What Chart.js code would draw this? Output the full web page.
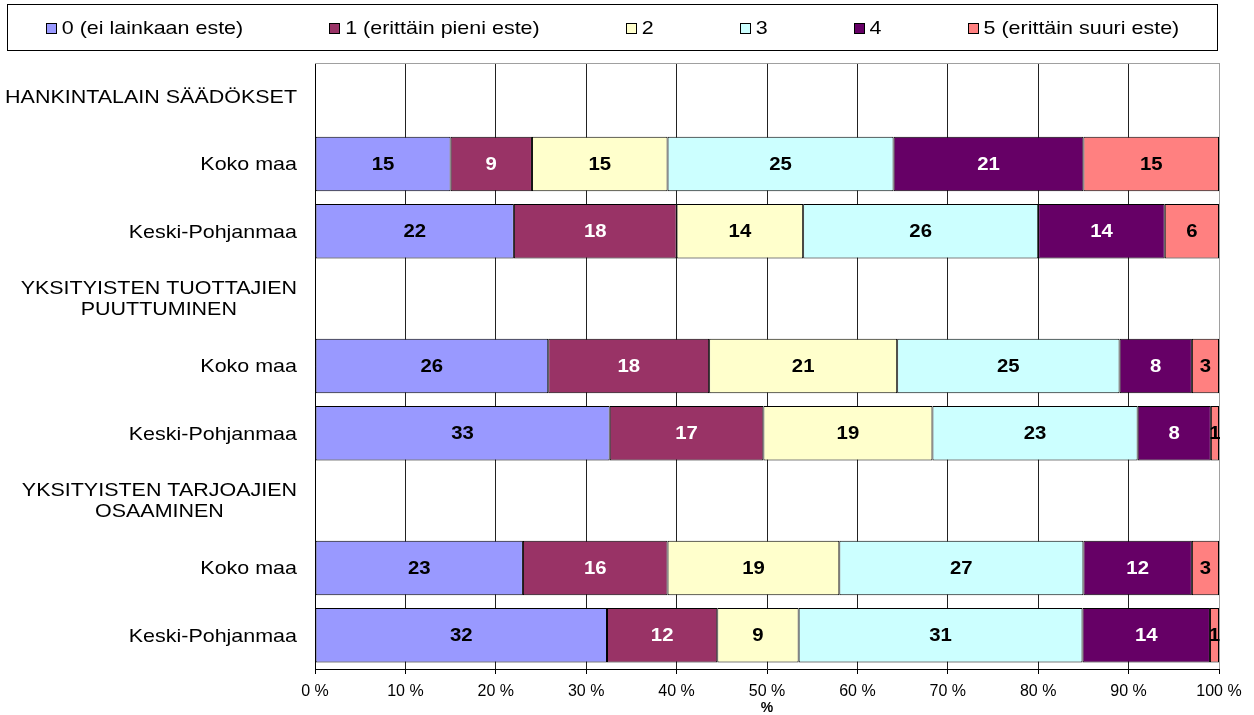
<!DOCTYPE html>
<html>
<head>
<meta charset="utf-8">
<script src="https://cdn.jsdelivr.net/npm/chart.js@4.4.0/dist/chart.umd.min.js"></script>
<style>
  html, body { margin: 0; padding: 0; background: #fff; }
</style>
</head>
<body>
<canvas id="chart" width="1254" height="715"></canvas>
<script>
// rows of the chart, section headers have no bars
const categories = [
    'HANKINTALAIN SÄÄDÖKSET',
    'Koko maa',
    'Keski-Pohjanmaa',
    ['YKSITYISTEN TUOTTAJIEN', 'PUUTTUMINEN'],
    'Koko maa',
    'Keski-Pohjanmaa',
    ['YKSITYISTEN TARJOAJIEN', 'OSAAMINEN'],
    'Koko maa',
    'Keski-Pohjanmaa'
];

const seriesNames = ['0 (ei lainkaan este)', '1 (erittäin pieni este)', '2', '3', '4', '5 (erittäin suuri este)'];
const seriesColors = ['#9999FF', '#993366', '#FFFFCC', '#CCFFFF', '#660066', '#FF8080'];
const labelColors = ['#000', '#fff', '#000', '#000', '#fff', '#000'];

// percentages
const vals0 = [null, 15, 22, null, 25.8, 32.6, null, 23, 32.3];
const vals1 = [null, 9, 18, null, 17.8, 17.0, null, 16, 12.2];
const vals2 = [null, 15, 14, null, 20.8, 18.7, null, 19, 9.0];
const vals3 = [null, 25, 26, null, 24.6, 22.7, null, 27, 31.4];
const vals4 = [null, 21, 14, null, 8.0, 8.1, null, 12, 14.1];
const vals5 = [null, 15, 6, null, 3.0, 0.9, null, 3, 1.0];
const seriesValues = [vals0, vals1, vals2, vals3, vals4, vals5];

const xTicks = [0, 10, 20, 30, 40, 50, 60, 70, 80, 90, 100];

const FONT = '"Liberation Sans", Arial, sans-serif';
const STRETCH = 1.13;

function drawStretched(ctx, text, x, y, align) {
    const w = ctx.measureText(text).width * STRETCH;
    let left = x;
    if (align === 'right') left = x - w;
    else if (align === 'center') left = x - w / 2;
    ctx.save();
    ctx.translate(left, y);
    ctx.scale(STRETCH, 1);
    ctx.textAlign = 'left';
    ctx.fillText(text, 0, 0);
    ctx.restore();
    return w;
}

const plotFrame = {
    id: 'plotFrame',
    beforeDatasetsDraw(chart) {
        const { ctx, chartArea: a } = chart;
        ctx.save();
        ctx.strokeStyle = '#a0a0a0';
        ctx.lineWidth = 1;
        ctx.beginPath();
        ctx.moveTo(a.left, a.top + 0.5);
        ctx.lineTo(a.right + 0.5, a.top + 0.5);
        ctx.lineTo(a.right + 0.5, a.bottom);
        ctx.stroke();
        ctx.restore();
    }
};

const segmentLabels = {
    id: 'segmentLabels',
    afterDatasetsDraw(chart) {
        const ctx = chart.ctx;
        ctx.save();
        ctx.font = 'bold 18px ' + FONT;
        ctx.textBaseline = 'middle';
        chart.data.datasets.forEach((ds, i) => {
            const meta = chart.getDatasetMeta(i);
            meta.data.forEach((bar, j) => {
                const v = ds.data[j];
                if (v === null || v === undefined) return;
                ctx.fillStyle = labelColors[i];
                drawStretched(ctx, String(Math.round(v)), (bar.x + bar.base) / 2, bar.y + 1, 'center');
            });
        });
        ctx.restore();
    }
};

const categoryLabels = {
    id: 'categoryLabels',
    afterDraw(chart) {
        const ctx = chart.ctx;
        const yScale = chart.scales.y;
        const right = chart.chartArea.left - 18;
        ctx.save();
        ctx.font = '19px ' + FONT;
        ctx.fillStyle = '#000';
        ctx.textBaseline = 'middle';
        categories.forEach((label, i) => {
            const y = yScale.getPixelForValue(i);
            const lines = Array.isArray(label) ? label : [label];
            const widest = Math.max(...lines.map(l => ctx.measureText(l).width * STRETCH));
            const cx = right - widest / 2;
            const lh = 21;
            lines.forEach((line, k) => {
                const ly = y + (k - (lines.length - 1) / 2) * lh + 1;
                drawStretched(ctx, line, cx, ly, 'center');
            });
        });
        ctx.restore();
    }
};

const legendBox = {
    id: 'legendBox',
    afterDraw(chart) {
        const ctx = chart.ctx;
        const box = { left: 7.5, top: 4.5, right: 1217.5, bottom: 50.5 };
        ctx.save();
        ctx.strokeStyle = '#000';
        ctx.lineWidth = 1;
        ctx.strokeRect(box.left, box.top, box.right - box.left, box.bottom - box.top);

        ctx.font = '19px ' + FONT;
        ctx.textBaseline = 'middle';
        const sq = 10, textGap = 6, itemGap = 86;
        const widths = seriesNames.map(n => sq + textGap + ctx.measureText(n).width * STRETCH);
        const total = widths.reduce((s, w) => s + w, 0) + itemGap * (widths.length - 1);
        let x = (box.left + box.right) / 2 - total / 2;
        const cy = (box.top + box.bottom) / 2;
        seriesNames.forEach((name, i) => {
            const sx = Math.round(x) + 0.5, sy = Math.round(cy - sq / 2) + 0.5;
            ctx.fillStyle = seriesColors[i];
            ctx.fillRect(sx, sy, sq, sq);
            ctx.strokeStyle = '#000';
            ctx.strokeRect(sx, sy, sq, sq);
            ctx.fillStyle = '#000';
            drawStretched(ctx, name, x + sq + textGap, cy + 1, 'left');
            x += widths[i] + itemGap;
        });
        ctx.restore();
    }
};

new Chart(document.getElementById('chart'), {
    type: 'bar',
    data: {
        labels: categories,
        datasets: seriesNames.map((name, i) => ({
            label: name,
            data: seriesValues[i],
            backgroundColor: seriesColors[i],
            borderColor: '#000',
            borderWidth: 1,
            borderSkipped: false,
            barPercentage: 0.81,
            categoryPercentage: 1
        }))
    },
    options: {
        indexAxis: 'y',
        responsive: false,
        animation: false,
        layout: { padding: { left: 315, right: 35, top: 63, bottom: 0 } },
        plugins: {
            legend: { display: false },
            tooltip: { enabled: false }
        },
        scales: {
            x: {
                stacked: true,
                min: 0,
                max: 100,
                afterBuildTicks: scale => { scale.ticks = xTicks.map(v => ({ value: v })); },
                ticks: {
                    callback: v => v + ' %',
                    color: '#000',
                    font: { family: FONT, size: 16 },
                    padding: 8,
                    maxRotation: 0,
                    autoSkip: false
                },
                grid: {
                    color: c => (c.tick && c.tick.value === 100) ? '#a0a0a0' : '#222',
                    tickColor: '#000',
                    tickLength: 5,
                    lineWidth: 1
                },
                border: { color: '#000', width: 1 },
                title: {
                    display: true,
                    text: '%',
                    color: '#000',
                    font: { family: FONT, size: 14, weight: 'bold', lineHeight: 1 },
                    padding: 0
                },
                afterFit: scale => { scale.height = 46; }
            },
            y: {
                stacked: true,
                ticks: { display: false },
                grid: { display: false },
                border: { color: '#000', width: 1 },
                afterFit: scale => { scale.width = 0; }
            }
        }
    },
    plugins: [plotFrame, segmentLabels, categoryLabels, legendBox]
});
</script>
</body>
</html>
